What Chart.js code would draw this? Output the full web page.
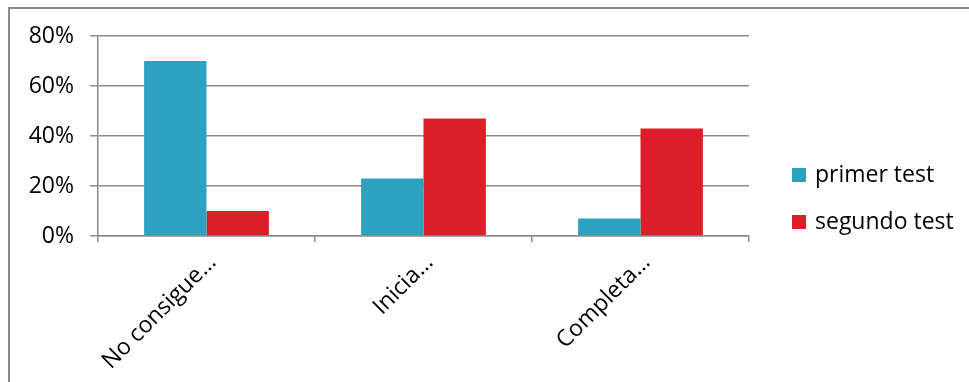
<!DOCTYPE html>
<html>
<head>
<meta charset="utf-8">
<script src="https://cdn.jsdelivr.net/npm/chart.js@4"></script>
<style>
  body { margin: 0; background: #fff; }
  #wrap { position: relative; width: 969px; height: 382px; overflow: hidden; }
  #frame { position: absolute; left: 8px; top: 7px; width: 1000px; height: 400px;
           border-top: 2px solid #8c8c8c; border-left: 2px solid #8c8c8c; }
  #costChart { position: absolute; left: 0; top: 0; }
</style>
</head>
<body>
<div id="wrap">
  <div id="frame"></div>
  <canvas id="costChart" width="969" height="382"></canvas>
</div>
<script>
const categories = ["No consigue…", "Inicia…", "Completa…"];
const primerTest = [70, 23, 7];
const segundoTest = [10, 47, 43];
const seriesNames = ["primer test", "segundo test"];
const seriesColors = ["#2ca2c0", "#da1f28"];

const font = { family: "'Open Sans', sans-serif", size: 23 };
const gridColor = "#8c8c8c";

// legend drawn by hand so it sits where Excel put it
const sideLegend = {
    id: "sideLegend",
    afterDraw(chart) {
        let ctx = chart.ctx;
        ctx.save();
        ctx.font = font.size + "px " + font.family;
        ctx.textBaseline = "middle";
        chart.data.datasets.forEach(function (ds, i) {
            let y = 175 + i * 47;
            ctx.fillStyle = ds.backgroundColor;
            ctx.fillRect(792, y - 7, 14, 14);
            ctx.fillStyle = "#000";
            ctx.fillText(ds.label, 815, y);
        });
        ctx.restore();
    }
};

let ctx = document.getElementById("costChart").getContext("2d");
let chart = new Chart(ctx, {
    type: "bar",
    data: {
        labels: categories,
        datasets: [{
            label: seriesNames[0],
            data: primerTest,
            backgroundColor: seriesColors[0]
        }, {
            label: seriesNames[1],
            data: segundoTest,
            backgroundColor: seriesColors[1]
        }]
    },
    options: {
        responsive: false,
        animation: false,
        devicePixelRatio: 1,
        layout: { padding: { top: 36, right: 220, left: 0, bottom: 0 } },
        datasets: { bar: { categoryPercentage: 0.575, barPercentage: 1 } },
        plugins: {
            legend: { display: false },
            tooltip: { enabled: false }
        },
        scales: {
            x: {
                grid: { drawOnChartArea: false, drawTicks: true, tickLength: 6, color: gridColor, lineWidth: 1.5, offset: true },
                border: { color: gridColor, width: 1.5 },
                ticks: { color: "#000", font: font, minRotation: 45, maxRotation: 45, padding: 7, labelOffset: 6 },
                afterFit: function (axis) { axis.height = 146; }
            },
            y: {
                min: 0,
                max: 80,
                grid: { color: gridColor, lineWidth: 1.5, tickLength: 8 },
                border: { color: gridColor, width: 1.5 },
                ticks: {
                    stepSize: 20,
                    color: "#000",
                    font: font,
                    padding: 16,
                    callback: function (v) { return v + "%"; }
                },
                afterFit: function (axis) { axis.width = 98; }
            }
        }
    },
    plugins: [sideLegend]
});
</script>
</body>
</html>
